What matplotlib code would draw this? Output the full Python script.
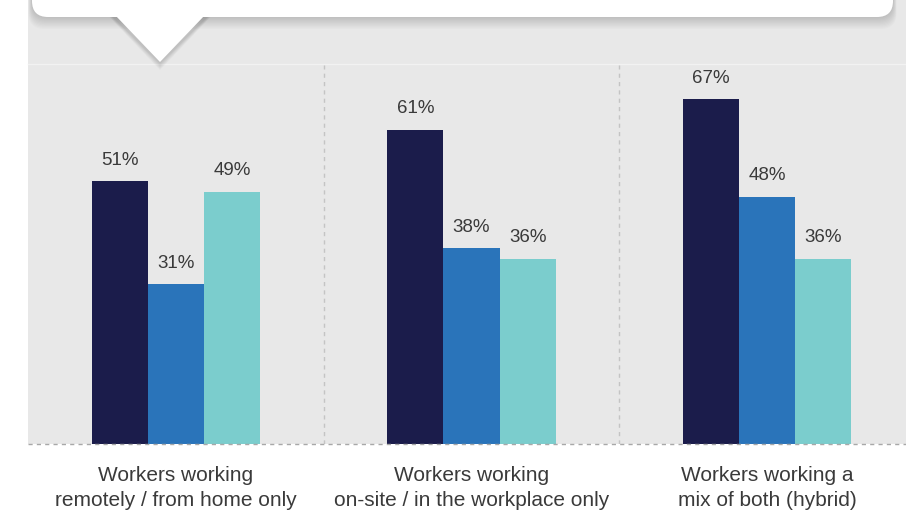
import numpy as np
import matplotlib.pyplot as plt
from matplotlib.patches import FancyBboxPatch, Polygon, Rectangle
from matplotlib.transforms import Affine2D

# =========================
# Data
# =========================
categories = ['Workers working\nremotely / from home only',
              'Workers working\non-site / in the workplace only',
              'Workers working a\nmix of both (hybrid)']
series_a = [51, 61, 67]
series_b = [31, 38, 48]
series_c = [49, 36, 36]
colors = ['#1b1c4b', '#2a74ba', '#7bcdcd']

plt.rcParams['font.family'] = ['Liberation Sans', 'DejaVu Sans']

W, H = 906, 518
fig = plt.figure(figsize=(W / 100, H / 100), dpi=100)
fig.patch.set_facecolor('white')

# pixel coords (origin top-left) -> display
px = Affine2D().scale(1 / W, -1 / H).translate(0, 1) + fig.transFigure

# gray panel behind everything
fig.patches.append(Rectangle((28, 0), W - 28, 444, transform=px,
                             facecolor='#e8e8e8', edgecolor='none', zorder=-1))

ax = fig.add_axes([28 / W, (H - 444) / H, (W - 28) / W, (444 - 64) / H])
ax.set_facecolor('none')
ax.set_zorder(1)

x = np.arange(len(categories))
bw = 0.19
for i, (vals, c) in enumerate(zip([series_a, series_b, series_c], colors)):
    bars = ax.bar(x + (i - 1) * bw, vals, width=bw, color=c, zorder=3)
    for b, v in zip(bars, vals):
        ax.annotate(f'{v}%', (b.get_x() + b.get_width() / 2, v),
                    xytext=(0, 9), textcoords='offset points',
                    ha='center', va='bottom', fontsize=13.5, color='#3a3a3a')

ax.set_xlim(-0.5, 2.47)
ax.set_ylim(0, 73.8)

# separators, baseline, top line
for s in [0.5, 1.5]:
    ax.axvline(s, color='#c4c4c4', lw=1, ls=(0, (3, 3)), zorder=1)
ax.axhline(0, color='#a8a8a8', lw=1, ls=(0, (3, 3)), zorder=4, clip_on=False)
ax.axhline(73.8, color='#f2f2f2', lw=1, zorder=1, clip_on=False)

for sp in ax.spines.values():
    sp.set_visible(False)
ax.set_yticks([])
ax.set_xticks(x)
ax.set_xticklabels(categories, fontsize=15, color='#3a3a3a', linespacing=1.38)
ax.tick_params(axis='x', length=0, pad=16)

# callout box with pointer and soft shadow
for k in range(10, 0, -1):
    off = k * 1.2
    sh_box = FancyBboxPatch((32 - off * 0.3, -40), 861 + off * 0.6, 57 + off,
                            boxstyle='round,pad=0,rounding_size=16', transform=px,
                            facecolor='black', edgecolor='none', alpha=0.015, zorder=5)
    sh_tri = Polygon([(112 - off * 0.3, 16), (208 + off * 0.3, 16), (160, 63 + off * 0.6)],
                     closed=True, transform=px, facecolor='black', edgecolor='none',
                     alpha=0.015, zorder=5)
    fig.patches.extend([sh_box, sh_tri])

box = FancyBboxPatch((32, -40), 861, 57, boxstyle='round,pad=0,rounding_size=16',
                     transform=px, facecolor='white', edgecolor='none', zorder=6)
tri = Polygon([(115, 15), (205, 15), (160, 62)], closed=True, transform=px,
              facecolor='white', edgecolor='none', zorder=6)
fig.patches.extend([box, tri])

fig.savefig('out.png', dpi=100)
